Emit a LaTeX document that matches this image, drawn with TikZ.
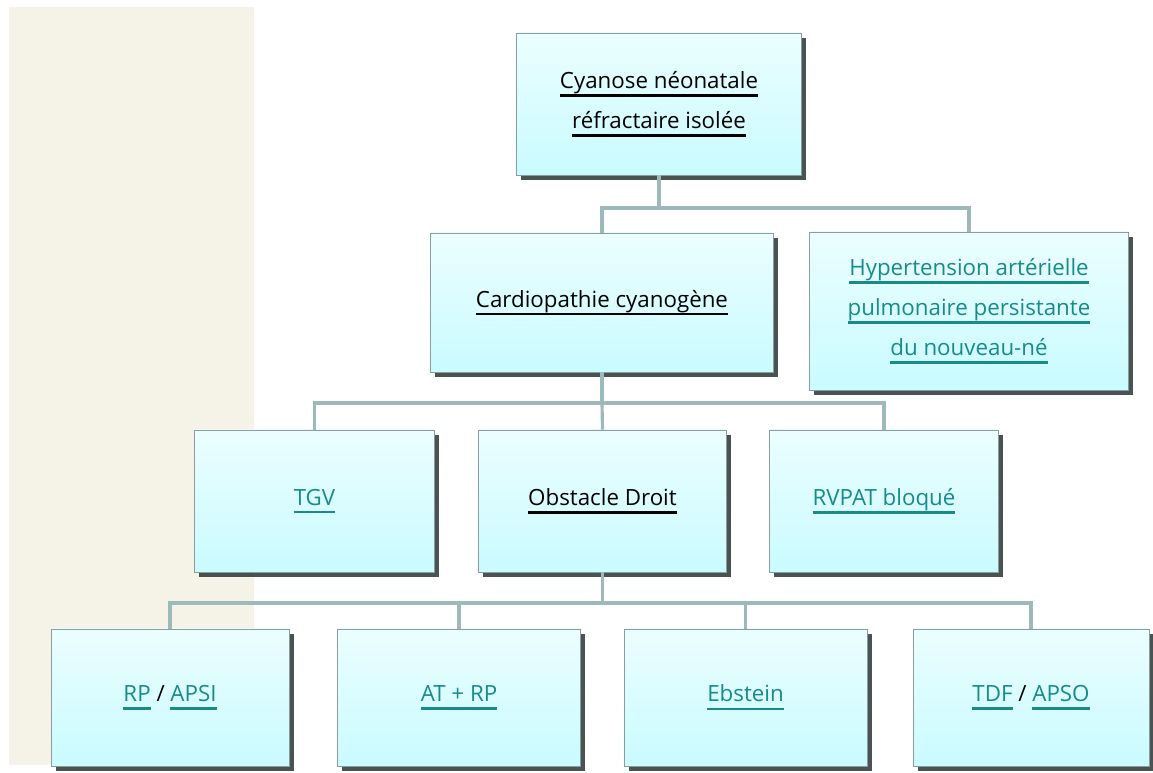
\documentclass[tikz,border=0pt]{standalone}
\usepackage{fontspec}
\setmainfont{Open Sans}
\usepackage{tikz}
\usetikzlibrary{shadows}
\definecolor{CNBeige}{HTML}{F5F3E8}
\definecolor{CNLine}{HTML}{9DB9B9}
\definecolor{CNTeal}{HTML}{178A8A}
\definecolor{CNTop}{HTML}{EBFEFF}
\definecolor{CNBottom}{HTML}{C9FBFF}
\definecolor{CNBorder}{HTML}{8C9C9C}
\definecolor{CNShade}{HTML}{34403F}
\newsavebox{\undlbox}
\newcommand{\undl}[1]{\sbox{\undlbox}{#1}\rlap{\rule[-4.6pt]{\wd\undlbox}{1.35pt}}\usebox{\undlbox}}

\begin{document}
\begin{tikzpicture}[x=1cm,y=1cm,
  box/.style={draw=CNBorder,line width=0.5pt,top color=CNTop,bottom color=CNBottom,
    align=center,inner sep=0pt,
    drop shadow={shadow xshift=2.6pt,shadow yshift=-2.8pt,fill=CNShade,opacity=0.9}},
  link/.style={CNLine,line width=1.8pt},
  lnk/.style={text=CNTeal}]
\path[use as bounding box] (0,0) rectangle (23.06,15.44);
\fill[CNBeige] (0.18,0.14) rectangle (5.08,15.30);
\fontsize{12.7}{22.8}\selectfont
% first level
\node[box,minimum width=5.70cm,minimum height=2.84cm] (cyan) at (13.18,13.36)
  {\undl{Cyanose néonatale}\\\undl{réfractaire isolée}};
% second level
\node[box,minimum width=6.86cm,minimum height=2.78cm] (cardio) at (12.04,9.39)
  {\undl{Cardiopathie cyanogène}};
\node[box,lnk,minimum width=6.38cm,minimum height=3.16cm] (htap) at (19.38,9.22)
  {\undl{Hypertension artérielle}\\\undl{pulmonaire persistante}\\\undl{du nouveau-né}};
% third level
\node[box,lnk,minimum width=4.80cm,minimum height=2.84cm] (tgv) at (6.29,5.42) {\undl{TGV}};
\node[box,minimum width=4.96cm,minimum height=2.84cm] (obst) at (12.05,5.42) {\undl{Obstacle Droit}};
\node[box,lnk,minimum width=4.58cm,minimum height=2.84cm] (rvpat) at (17.68,5.42) {\undl{RVPAT bloqué}};
% fourth level
\node[box,lnk,minimum width=4.76cm,minimum height=2.74cm] (rp) at (3.40,1.49)
  {\undl{RP} \textcolor{black}{/} \undl{APSI}};
\node[box,lnk,minimum width=4.86cm,minimum height=2.74cm] (atrp) at (9.18,1.49) {\undl{AT + RP}};
\node[box,lnk,minimum width=4.86cm,minimum height=2.74cm] (ebst) at (14.91,1.49) {\undl{Ebstein}};
\node[box,lnk,minimum width=4.72cm,minimum height=2.74cm] (tdf) at (20.62,1.49)
  {\undl{TDF} \textcolor{black}{/} \undl{APSO}};
% connectors
\coordinate (bus1) at (13.18,11.28);
\coordinate (bus2) at (12.04,7.38);
\coordinate (bus3) at (12.05,3.38);
\draw[link] (cyan.south) -- (bus1);
\draw[link] (cardio.north) |- (bus1) -| (htap.north);
\draw[link] (cardio.south) -- (bus2);
\draw[link] (tgv.north) |- (bus2) -| (rvpat.north);
\draw[link] (bus2) -- (obst.north);
\draw[link] (obst.south) -- (bus3);
\draw[link] (rp.north) |- (bus3) -| (tdf.north);
\draw[link] (atrp.north) -- (atrp.north |- bus3);
\draw[link] (ebst.north) -- (ebst.north |- bus3);
\end{tikzpicture}
\end{document}
